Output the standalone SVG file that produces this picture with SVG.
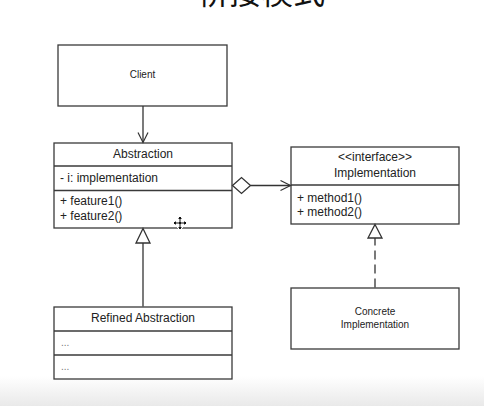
<svg xmlns="http://www.w3.org/2000/svg" width="484" height="406" viewBox="0 0 484 406">
  <defs>
    <linearGradient id="bg" x1="0" y1="0" x2="0" y2="1">
      <stop offset="0" stop-color="#ffffff"/>
      <stop offset="1" stop-color="#e9e9e9"/>
    </linearGradient>
    <marker id="open" viewBox="0 0 12 12" refX="11" refY="6" markerWidth="12" markerHeight="12" markerUnits="userSpaceOnUse" orient="auto">
      <path d="M1,1 L11,6 L1,11" fill="none" stroke="#333" stroke-width="1.2"/>
    </marker>
  </defs>
  <style>
    .box{fill:#fff;stroke:#3a3a3a;stroke-width:1.3}
    .div{stroke:#3a3a3a;stroke-width:1.3}
    .t{font-family:"Liberation Sans",Arial,sans-serif;font-size:12px;fill:#222}
    .s{font-family:"Liberation Sans",Arial,sans-serif;font-size:10px;fill:#222}
    .c{text-anchor:middle}
    .dots{font-family:"Liberation Sans",Arial,sans-serif;font-size:10px;fill:#777}
    .ln{fill:none;stroke:#333;stroke-width:1.3}
  </style>
  <rect x="0" y="0" width="484" height="406" fill="#fff"/>
  <rect x="0" y="376" width="484" height="30" fill="url(#bg)"/>
  <text x="261" y="4" font-family="'Noto Sans CJK SC',sans-serif" font-size="32" text-anchor="middle" fill="#111">桥接模式</text>

  <g id="client">
    <rect class="box" x="58" y="45" width="169" height="61"/>
    <text class="s c" x="142.5" y="78">Client</text>
  </g>

  <g id="abstraction">
    <rect class="box" x="54" y="143" width="178" height="85"/>
    <line class="div" x1="54" y1="166" x2="232" y2="166"/>
    <line class="div" x1="54" y1="190.5" x2="232" y2="190.5"/>
    <text class="t c" x="143" y="158">Abstraction</text>
    <text class="t" x="60" y="182">- i: implementation</text>
    <text class="t" x="60" y="205">+ feature1()</text>
    <text class="t" x="60" y="219.5">+ feature2()</text>
  </g>

  <g id="implementation">
    <rect class="box" x="291" y="147" width="168" height="77"/>
    <line class="div" x1="291" y1="185" x2="459" y2="185"/>
    <text class="t c" x="375" y="161">&lt;&lt;interface&gt;&gt;</text>
    <text class="t c" x="375" y="177">Implementation</text>
    <text class="t" x="297" y="201.5">+ method1()</text>
    <text class="t" x="297" y="216">+ method2()</text>
  </g>

  <g id="refined">
    <rect class="box" x="54" y="307" width="178" height="72"/>
    <line class="div" x1="54" y1="331" x2="232" y2="331"/>
    <line class="div" x1="54" y1="355" x2="232" y2="355"/>
    <text class="t c" x="143" y="322">Refined Abstraction</text>
    <text class="dots" x="61" y="346">...</text>
    <text class="dots" x="61" y="370">...</text>
  </g>

  <g id="concrete">
    <rect class="box" x="291" y="288" width="168" height="61"/>
    <text class="s c" x="375" y="315">Concrete</text>
    <text class="s c" x="375" y="328">Implementation</text>
  </g>

  <g id="connectors">
    <line class="ln" x1="143" y1="106" x2="143" y2="142.5" marker-end="url(#open)"/>
    <path class="ln" d="M143,306.5 L143,243"/>
    <path d="M143,228.5 L150,243 L136,243 Z" fill="#fff" stroke="#333" stroke-width="1.3"/>
    <path d="M232.5,185.5 L241.5,177.5 L250.5,185.5 L241.5,193.5 Z" fill="#fff" stroke="#333" stroke-width="1.3"/>
    <line class="ln" x1="250.5" y1="185.5" x2="290.5" y2="185.5" marker-end="url(#open)"/>
    <line class="ln" x1="375" y1="287.5" x2="375" y2="238" stroke-dasharray="9,5"/>
    <path d="M375,224.5 L382,238 L368,238 Z" fill="#fff" stroke="#333" stroke-width="1.3"/>
  </g>

  <g id="cursor" transform="translate(180,223)">
    <path d="M0,-7 L3,-4 L1,-4 L1,-1 L4,-1 L4,-3 L7,0 L4,3 L4,1 L1,1 L1,4 L3,4 L0,7 L-3,4 L-1,4 L-1,1 L-4,1 L-4,3 L-7,0 L-4,-3 L-4,-1 L-1,-1 L-1,-4 L-3,-4 Z" fill="#111" stroke="#fff" stroke-width="1"/>
  </g>
</svg>
